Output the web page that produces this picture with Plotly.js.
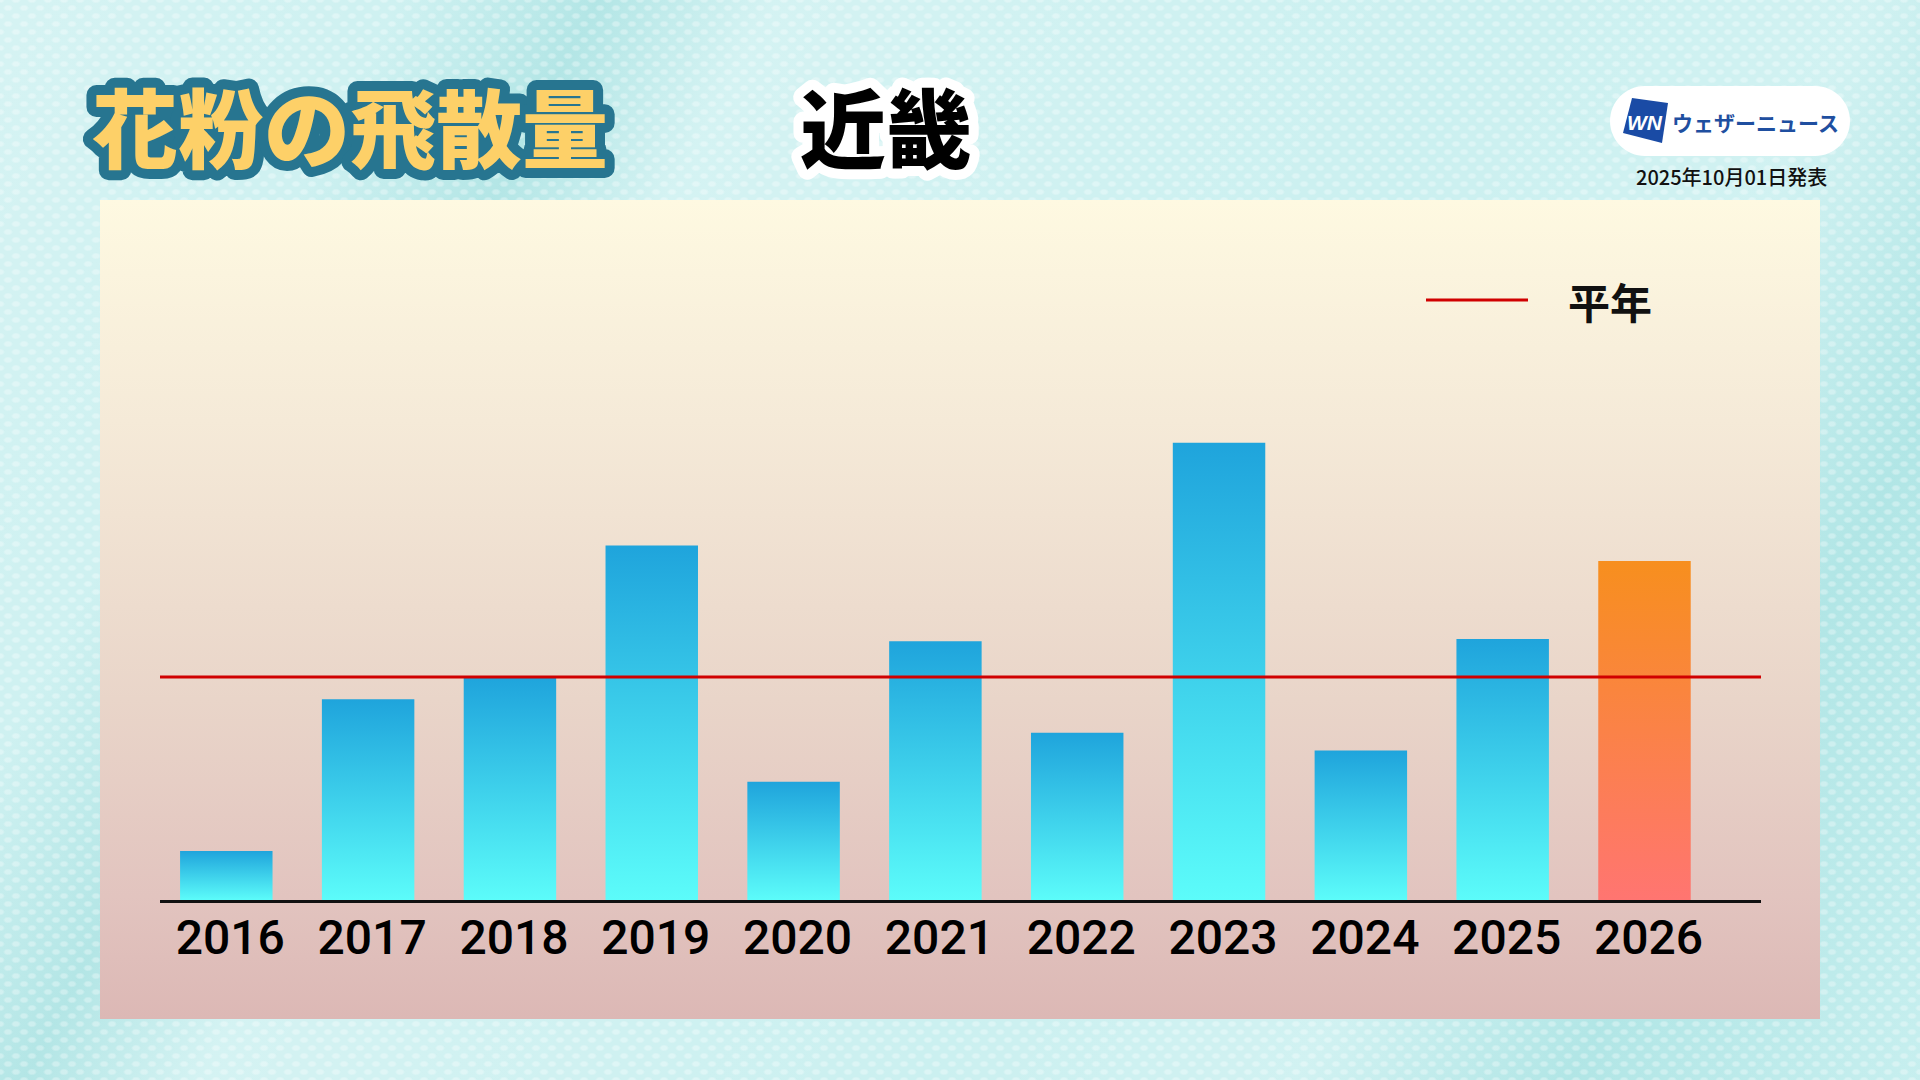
<!DOCTYPE html>
<html lang="ja">
<head>
<meta charset="utf-8">
<title>花粉の飛散量 近畿</title>
<script src="https://cdn.plot.ly/plotly-3.0.1.min.js"></script>
<style>
  html, body { margin: 0; padding: 0; }
  body {
    width: 1920px; height: 1080px; overflow: hidden; position: relative;
    background-color: #c4eeee;
    background-image:
      radial-gradient(ellipse 5px 3.5px at 50% 50%, rgba(255,255,255,0.32) 55%, rgba(255,255,255,0) 100%),
      radial-gradient(ellipse 5px 3.5px at 50% 50%, rgba(255,255,255,0.32) 55%, rgba(255,255,255,0) 100%),
      linear-gradient(118deg, rgba(255,255,255,0.30) 0%, rgba(255,255,255,0.18) 16%, rgba(120,200,200,0.22) 24%, rgba(255,255,255,0.28) 31%, rgba(255,255,255,0.12) 60%, rgba(255,255,255,0.22) 75%, rgba(110,200,200,0.22) 86%, rgba(255,255,255,0.05) 100%);
    background-size: 16px 16px, 16px 16px, 100% 100%;
    background-position: 0 0, 8px 8px, 0 0;
  }
  #panel {
    position: absolute; left: 100px; top: 200px; width: 1720px; height: 819px;
    background: linear-gradient(180deg, #fef9e1 0%, #f5ead8 27%, #e9d5c9 61%, #e2c4bf 85%, #dcb8b5 100%);
  }
  #chart { position: absolute; left: 0; top: 0; width: 1920px; height: 1080px; }
  /* outlined heading texts */
  .annotation[data-index="0"] text {
    paint-order: stroke fill; stroke: #277590; stroke-width: 20px; stroke-linejoin: round;
  }
  .annotation[data-index="1"] text {
    paint-order: stroke fill; stroke: #ffffff; stroke-width: 20px; stroke-linejoin: round;
  }
</style>
</head>
<body>
<div id="panel"></div>
<div id="chart"></div>
<script>
// Pollen amount per season, as a percentage of the normal year
const years = ['2016', '2017', '2018', '2019', '2020', '2021', '2022', '2023', '2024', '2025', '2026'];
const ratioToNormal = [22, 90, 100, 159, 53, 116, 75, 205, 67, 117, 152];
const normalLevel = 100;
const forecastYear = '2026';

// Texts
const titleText = '花粉の飛散量';
const regionText = '近畿';
const legendLabel = '平年';
const brandMark = 'WN';
const brandText = 'ウェザーニュース';
const issuedText = '2025年10月01日発表';

// Page geometry (pixels) and helpers to place decorations in paper units
const M = { l: 160, r: 159, t: 200, b: 180 };
const FULL_W = 1920, FULL_H = 1080;
const PW = FULL_W - M.l - M.r, PH = FULL_H - M.t - M.b;
const px = x => (x - M.l) / PW;
const py = y => (FULL_H - M.b - y) / PH;

function pillPath(x0, y0, x1, y1) {
  const r = (y1 - y0) / 2, k = 0.5523 * r;
  const P = (x, y) => px(x) + ',' + py(y);
  return 'M' + P(x0 + r, y0) + ' L' + P(x1 - r, y0) +
    ' C' + P(x1 - r + k, y0) + ' ' + P(x1, y0 + r - k) + ' ' + P(x1, y0 + r) +
    ' C' + P(x1, y0 + r + k) + ' ' + P(x1 - r + k, y1) + ' ' + P(x1 - r, y1) +
    ' L' + P(x0 + r, y1) +
    ' C' + P(x0 + r - k, y1) + ' ' + P(x0, y0 + r + k) + ' ' + P(x0, y0 + r) +
    ' C' + P(x0, y0 + r - k) + ' ' + P(x0 + r - k, y0) + ' ' + P(x0 + r, y0) + ' Z';
}
function polyPath(pts) {
  return 'M' + pts.map(p => px(p[0]) + ',' + py(p[1])).join(' L') + ' Z';
}

const barColors = years.map(y => y === forecastYear ? '#f98a3a' : '#2bb6e2');

const data = [{
  type: 'bar',
  x: years,
  y: ratioToNormal,
  marker: { color: barColors, line: { width: 0 } },
  hoverinfo: 'skip',
  showlegend: false
}];

const layout = {
  width: FULL_W, height: FULL_H,
  margin: M,
  paper_bgcolor: 'rgba(0,0,0,0)',
  plot_bgcolor: 'rgba(0,0,0,0)',
  bargap: 0.348,
  showlegend: false,
  xaxis: {
    type: 'category',
    range: [-0.4675, 10.8215],
    showline: true, linecolor: '#111111', linewidth: 3,
    ticks: '', showgrid: false, zeroline: false,
    tickfont: { family: 'Roboto, Liberation Sans, sans-serif', size: 48, color: '#000000', weight: 500 },
    ticklabelstandoff: -7,
    ticklabelshift: 4
  },
  yaxis: { range: [0, 313.9], visible: false, showgrid: false, zeroline: false },
  shapes: [
    // normal-year reference line
    { type: 'line', xref: 'paper', x0: 0, x1: 1, yref: 'y', y0: normalLevel, y1: normalLevel,
      line: { color: '#d00000', width: 3 }, layer: 'above' },
    // legend sample
    { type: 'line', xref: 'paper', yref: 'paper', x0: px(1426), x1: px(1528), y0: py(300), y1: py(300),
      line: { color: '#d00000', width: 3 } },
    // brand badge
    { type: 'path', xref: 'paper', yref: 'paper', path: pillPath(1610, 86, 1850, 156),
      fillcolor: '#ffffff', line: { width: 0 } },
    { type: 'path', xref: 'paper', yref: 'paper',
      path: polyPath([[1632, 98], [1668, 103], [1662, 143], [1623, 133]]),
      fillcolor: '#1a4ba5', line: { width: 0 } }
  ],
  annotations: [
    { text: titleText, xref: 'paper', yref: 'paper', x: px(350), y: py(124),
      xanchor: 'center', yanchor: 'middle', showarrow: false,
      font: { family: 'Noto Sans CJK JP, sans-serif', size: 86, color: '#fdd068', weight: 900 } },
    { text: regionText, xref: 'paper', yref: 'paper', x: px(886), y: py(125),
      xanchor: 'center', yanchor: 'middle', showarrow: false,
      font: { family: 'Noto Sans CJK JP, sans-serif', size: 86, color: '#000000', weight: 900 } },
    { text: legendLabel, xref: 'paper', yref: 'paper', x: px(1610), y: py(300),
      xanchor: 'center', yanchor: 'middle', showarrow: false,
      font: { family: 'Noto Sans CJK JP, sans-serif', size: 42, color: '#111111', weight: 700 } },
    { text: brandMark, xref: 'paper', yref: 'paper', x: px(1645), y: py(123),
      xanchor: 'center', yanchor: 'middle', showarrow: false,
      font: { family: 'Liberation Sans, sans-serif', size: 21, color: '#ffffff', weight: 900, style: 'italic' } },
    { text: brandText, xref: 'paper', yref: 'paper', x: px(1755), y: py(122),
      xanchor: 'center', yanchor: 'middle', showarrow: false,
      font: { family: 'Noto Sans CJK JP, sans-serif', size: 21, color: '#1f4fa0', weight: 700 } },
    { text: issuedText, xref: 'paper', yref: 'paper', x: px(1731), y: py(176),
      xanchor: 'center', yanchor: 'middle', showarrow: false,
      font: { family: 'Noto Sans CJK JP, sans-serif', size: 20, color: '#111111', weight: 500 } }
  ]
};

const gd = document.getElementById('chart');
Plotly.newPlot(gd, data, layout, { staticPlot: true, displayModeBar: false }).then(() => {
  // vertical gradient fills for the bars
  const svg = gd.querySelector('svg.main-svg');
  let defs = svg.querySelector('defs');
  if (!defs) { defs = document.createElementNS('http://www.w3.org/2000/svg', 'defs'); svg.prepend(defs); }
  const NS = 'http://www.w3.org/2000/svg';
  function addGradient(id, top, bottom) {
    const g = document.createElementNS(NS, 'linearGradient');
    g.setAttribute('id', id);
    g.setAttribute('x1', '0'); g.setAttribute('y1', '0');
    g.setAttribute('x2', '0'); g.setAttribute('y2', '1');
    [[0, top], [1, bottom]].forEach(([o, c]) => {
      const s = document.createElementNS(NS, 'stop');
      s.setAttribute('offset', o); s.setAttribute('stop-color', c);
      g.appendChild(s);
    });
    defs.appendChild(g);
  }
  addGradient('barBlue', '#1fa4dc', '#5cfcfa');
  addGradient('barOrange', '#f78f1e', '#ff7571');
  gd.querySelectorAll('.barlayer .point path').forEach((p, i) => {
    p.style.fill = years[i] === forecastYear ? 'url(#barOrange)' : 'url(#barBlue)';
  });
});
</script>
</body>
</html>
